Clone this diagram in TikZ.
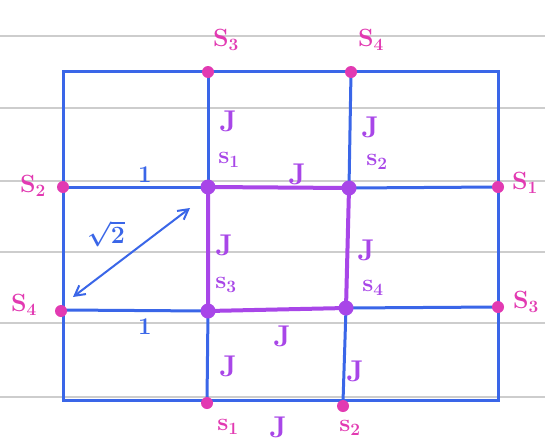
\documentclass[tikz,border=0pt]{standalone}
\usetikzlibrary{arrows.meta}
\definecolor{gridblue}{RGB}{58,102,232}
\definecolor{dotpink}{RGB}{226,58,178}
\definecolor{edgepurple}{RGB}{168,70,232}
\definecolor{paperline}{RGB}{205,205,205}
\tikzset{
  paper/.style={draw=paperline, line width=2.6pt},
  gridline/.style={draw=gridblue, line width=3pt},
  bondline/.style={draw=edgepurple, line width=4pt},
  pinkdot/.style={circle, fill=dotpink, inner sep=0pt, minimum size=12pt},
  purpledot/.style={circle, fill=edgepurple, inner sep=0pt, minimum size=15pt},
  spinlabel/.style={text=dotpink, font=\fontsize{27}{29}\selectfont\boldmath},
  innerlabel/.style={text=edgepurple, font=\fontsize{23}{25}\selectfont\boldmath},
  jlabel/.style={text=edgepurple, font=\fontsize{30}{32}\selectfont\bfseries},
  distlabel/.style={text=gridblue, font=\fontsize{24}{26}\selectfont\bfseries\boldmath},
}
\begin{document}
\begin{tikzpicture}[x=1pt,y=-1pt]
\useasboundingbox (0,0) rectangle (545,442);
\fill[white] (0,0) rectangle (545,442);
% lined paper
\foreach \yy in {36,108,181,252,323,397}
  \draw[paper] (0,\yy) -- (545,\yy);

% grid coordinates
\coordinate (TL) at (63,71);
\coordinate (TR) at (498,71);
\coordinate (BL) at (63,400);
\coordinate (BR) at (498,400);
\coordinate (L1) at (63,187);
\coordinate (L2) at (63,310);
\coordinate (R1) at (498,187);
\coordinate (R2) at (498,307);
\coordinate (T1) at (208,72);
\coordinate (T2) at (351,72);
\coordinate (B1) at (207,401);
\coordinate (B2) at (343,402);
\coordinate (A) at (208,187);
\coordinate (B) at (349,188);
\coordinate (C) at (208,311);
\coordinate (D) at (346,308);

% outer frame and grid lines
\draw[gridline] (TL) -- (TR) -- (BR) -- (BL) -- cycle;
\draw[gridline] (L1) -- (A);
\draw[gridline] (B) -- (R1);
\draw[gridline] (L2) -- (C);
\draw[gridline] (D) -- (R2);
\draw[gridline] (T1) -- (A);
\draw[gridline] (C) -- (B1);
\draw[gridline] (T2) -- (B);
\draw[gridline] (D) -- (B2);

% plaquette bonds
\draw[bondline] (A) -- (B) -- (D) -- (C) -- cycle;

% dots
\node[pinkdot] (dT1) at (T1) {};
\node[pinkdot] (dT2) at (T2) {};
\node[pinkdot] (dL1) at (L1) {};
\node[pinkdot] (dL2) at (61,311) {};
\node[pinkdot] (dR1) at (R1) {};
\node[pinkdot] (dR2) at (R2) {};
\node[pinkdot] (dB1) at (207,403) {};
\node[pinkdot] (dB2) at (343,406) {};
\node[purpledot] (dA) at (A) {};
\node[purpledot] (dB) at (B) {};
\node[purpledot] (dC) at (C) {};
\node[purpledot] (dD) at (D) {};

% outer spin labels
\node[spinlabel] (lT1) at (226,40) {$\mathrm{S}_3$};
\node[spinlabel] (lT2) at (371,40) {$\mathrm{S}_4$};
\node[spinlabel] (lL1) at (33,186) {$\mathrm{S}_2$};
\node[spinlabel] (lL2) at (24,305) {$\mathrm{S}_4$};
\node[spinlabel] (lR1) at (525,183) {$\mathrm{S}_1$};
\node[spinlabel] (lR2) at (526,302) {$\mathrm{S}_3$};
\node[spinlabel] (lB1) at (228,427) {$\mathrm{s}_1$};
\node[spinlabel] (lB2) at (350,428) {$\mathrm{s}_2$};

% inner labels
\node[innerlabel] (iA) at (229,160) {$\mathrm{s}_1$};
\node[innerlabel] (iB) at (377,162) {$\mathrm{s}_2$};
\node[innerlabel] (iC) at (226,285) {$\mathrm{s}_3$};
\node[innerlabel] (iD) at (373,288) {$\mathrm{s}_4$};

% couplings
\node[jlabel] (j1) at (228,121) {J};
\node[jlabel] (j2) at (370,127) {J};
\node[jlabel] (j3) at (297,174) {J};
\node[jlabel] (j4) at (224,245) {J};
\node[jlabel] (j5) at (366,250) {J};
\node[jlabel] (j6) at (282,336) {J};
\node[jlabel] (j7) at (228,366) {J};
\node[jlabel] (j8) at (355,371) {J};
\node[jlabel] (j9) at (278,427) {J};

% distances
\node[distlabel] (one1) at (145,175) {1};
\node[distlabel] (one2) at (145,327) {1};
\node[distlabel] (sq) at (106,234) {$\sqrt{2}$};
\coordinate (arrS) at (73,297);
\coordinate (arrE) at (190,208);
\draw[draw=gridblue, line width=2pt, {Straight Barb[length=10pt,width=11pt]}-{Straight Barb[length=10pt,width=11pt]}] (arrS) -- (arrE);
\end{tikzpicture}
\end{document}
